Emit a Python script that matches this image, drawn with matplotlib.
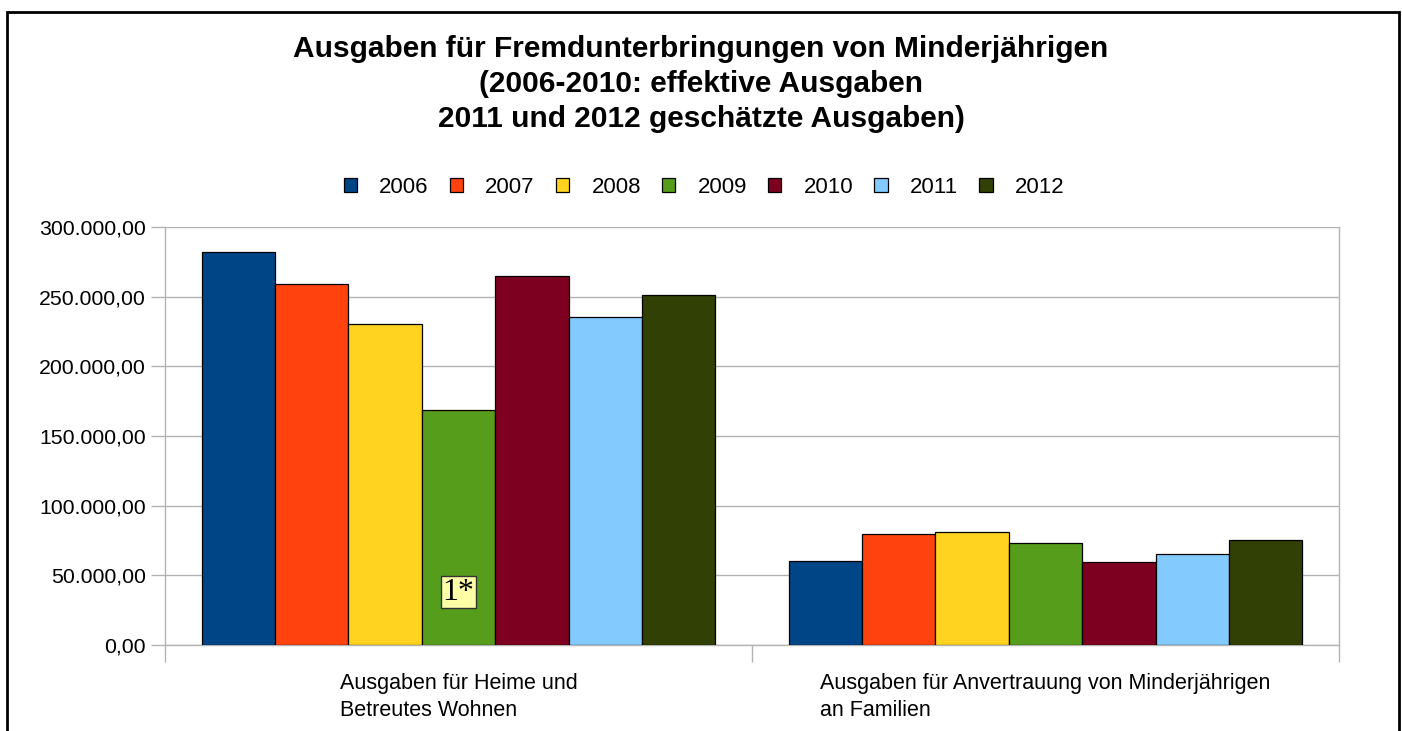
"""Ausgaben für Fremdunterbringungen von Minderjährigen - grouped bar chart."""

import numpy as np
import matplotlib.pyplot as plt
from matplotlib.patches import Rectangle
from matplotlib.ticker import FuncFormatter

# =============================================================================
# DATA
# =============================================================================
categories = ["Ausgaben für Heime und\nBetreutes Wohnen",
              "Ausgaben für Anvertrauung von Minderjährigen\nan Familien"]
years = ["2006", "2007", "2008", "2009", "2010", "2011", "2012"]
v2006 = [282000, 60000]
v2007 = [259000, 80000]
v2008 = [230500, 81000]
v2009 = [168500, 73400]
v2010 = [264500, 59500]
v2011 = [235500, 65500]
v2012 = [251000, 75600]
series = [v2006, v2007, v2008, v2009, v2010, v2011, v2012]

note_text = "1*"
note_pos = (0, 38000)   # category index, value

COLORS = ['#004586', '#ff420e', '#ffd320', '#579d1c', '#7e0021', '#83caff', '#314004']
GRID = '#b3b3b3'

plt.rcParams.update({
    "font.family": ["Liberation Sans", "DejaVu Sans"],
})


def de_fmt(v, _pos=None):
    s = f"{v:,.2f}"
    return s.replace(",", "X").replace(".", ",").replace("X", ".")


def main():
    fig = plt.figure(figsize=(14.02, 7.31), dpi=100)
    ax = fig.add_axes([165 / 1402, 86 / 731, 1174 / 1402, 418 / 731])

    x = np.arange(len(categories))
    width = 0.125
    n = len(series)
    for i, (vals, yr) in enumerate(zip(series, years)):
        ax.bar(x + (i - (n - 1) / 2) * width, vals, width, color=COLORS[i],
               edgecolor='black', linewidth=0.9, label=yr, zorder=3)

    ax.set_xlim(-0.5, 1.5)
    ax.set_ylim(0, 300000)
    ax.set_yticks(np.arange(0, 300001, 50000))
    ax.yaxis.set_major_formatter(FuncFormatter(de_fmt))
    ax.grid(axis='y', color=GRID, linewidth=1, zorder=0)

    ax.set_xticks(x)
    ax.set_xticklabels(categories)
    for lbl in ax.get_xticklabels():
        lbl.set_multialignment('left')
        lbl.set_linespacing(1.4)
    ax.set_xticks([-0.5, 0.5, 1.5], minor=True)
    ax.tick_params(axis='x', which='major', length=0, pad=20, labelsize=15.5)
    ax.tick_params(axis='x', which='minor', length=12, color=GRID, width=1)
    ax.tick_params(axis='y', length=10, color=GRID, width=1, labelsize=15.3, pad=4)

    for side in ('left', 'right', 'bottom'):
        ax.spines[side].set_color(GRID)
        ax.spines[side].set_linewidth(1)
    ax.spines['top'].set_visible(False)

    # annotation inside 2009 bar
    ax.text(note_pos[0], note_pos[1], note_text, ha='center', va='center',
            family=['Liberation Serif', 'DejaVu Serif'], fontsize=23, zorder=5,
            bbox=dict(boxstyle='square,pad=0.06', fc='#ffffa8', ec='#333333', lw=1))

    fig.legend(loc='center', bbox_to_anchor=(704 / 1402, 0.744), ncol=7,
               frameon=False, fontsize=16, handlelength=0.6, handleheight=0.6,
               handletextpad=1.0, columnspacing=0.95)

    fig.suptitle("Ausgaben für Fremdunterbringungen von Minderjährigen\n"
                 "(2006-2010: effektive Ausgaben\n"
                 "2011 und 2012 geschätzte Ausgaben)",
                 x=0.5, y=0.952, fontsize=21.5, fontweight='bold', linespacing=1.32)

    # outer frame of the chart
    fig.patches.append(Rectangle((7 / 1402, -0.05), 1392 / 1402, 1.05 - 12 / 731,
                                 transform=fig.transFigure, fill=False,
                                 edgecolor='black', linewidth=2))

    fig.savefig("out.png", dpi=100)
    plt.close(fig)


if __name__ == "__main__":
    main()
